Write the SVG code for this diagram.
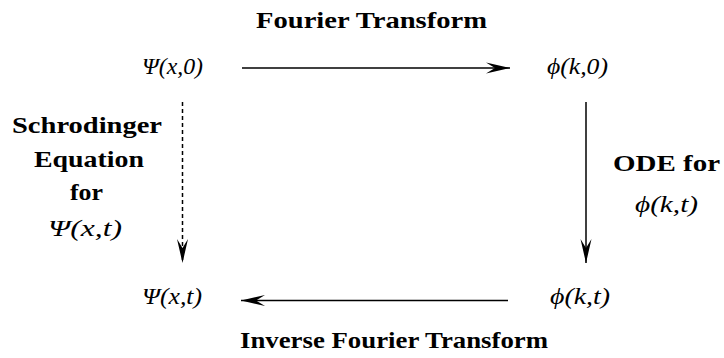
<svg xmlns="http://www.w3.org/2000/svg" width="724" height="358" viewBox="0 0 724 358">
<style>
.lbl{font-family:'Liberation Serif','Times New Roman',serif;font-weight:bold;font-size:24px;fill:#000}
.math{font-family:'Liberation Serif','Times New Roman',serif;font-style:italic;font-size:23.5px;fill:#000}
.edge{stroke:#000;stroke-width:1.5;fill:none}
</style>
<defs>
<marker id="ah" viewBox="-24 -6 26 12" refX="0" refY="0" markerWidth="26" markerHeight="12" markerUnits="userSpaceOnUse" orient="auto">
<path d="M0,0 L-24,-5.5 L-15,0 L-24,5.5 Z" fill="#000"/>
</marker>
</defs>
<rect width="724" height="358" fill="#fff"/>
<g id="connectors">
<line class="edge" x1="242" y1="68" x2="510" y2="68" marker-end="url(#ah)"/>
<line class="edge" x1="586" y1="102" x2="586" y2="263" marker-end="url(#ah)"/>
<line class="edge" x1="508" y1="300.5" x2="241" y2="300.5" marker-end="url(#ah)"/>
<line class="edge" x1="182.5" y1="102" x2="182.5" y2="263" stroke-dasharray="4,3" marker-end="url(#ah)"/>
</g>
<g id="n-psi-x0"><text class="math" x="142" y="74" textLength="61" lengthAdjust="spacingAndGlyphs">Ψ(x,0)</text></g>
<g id="n-phi-k0"><text class="math" x="547" y="74" textLength="61" lengthAdjust="spacingAndGlyphs">ϕ(k,0)</text></g>
<g id="n-psi-xt"><text class="math" x="142" y="304" textLength="60" lengthAdjust="spacingAndGlyphs">Ψ(x,t)</text></g>
<g id="n-phi-kt"><text class="math" x="550" y="304" textLength="60" lengthAdjust="spacingAndGlyphs">ϕ(k,t)</text></g>
<g id="l-ft"><text class="lbl" x="256" y="28" textLength="231" lengthAdjust="spacingAndGlyphs">Fourier Transform</text></g>
<g id="l-ift"><text class="lbl" x="240" y="348" textLength="308" lengthAdjust="spacingAndGlyphs">Inverse Fourier Transform</text></g>
<g id="l-schr">
<text class="lbl" x="12" y="133" textLength="150" lengthAdjust="spacingAndGlyphs">Schrodinger</text>
<text class="lbl" x="34" y="167" textLength="110" lengthAdjust="spacingAndGlyphs">Equation</text>
<text class="lbl" x="70" y="200" textLength="33" lengthAdjust="spacingAndGlyphs">for</text>
<text class="math" x="48" y="236" textLength="74" lengthAdjust="spacingAndGlyphs">Ψ(x,t)</text>
</g>
<g id="l-ode">
<text class="lbl" x="613" y="171" textLength="107" lengthAdjust="spacingAndGlyphs">ODE for</text>
<text class="math" x="635" y="212" textLength="63" lengthAdjust="spacingAndGlyphs">ϕ(k,t)</text>
</g>
</svg>
